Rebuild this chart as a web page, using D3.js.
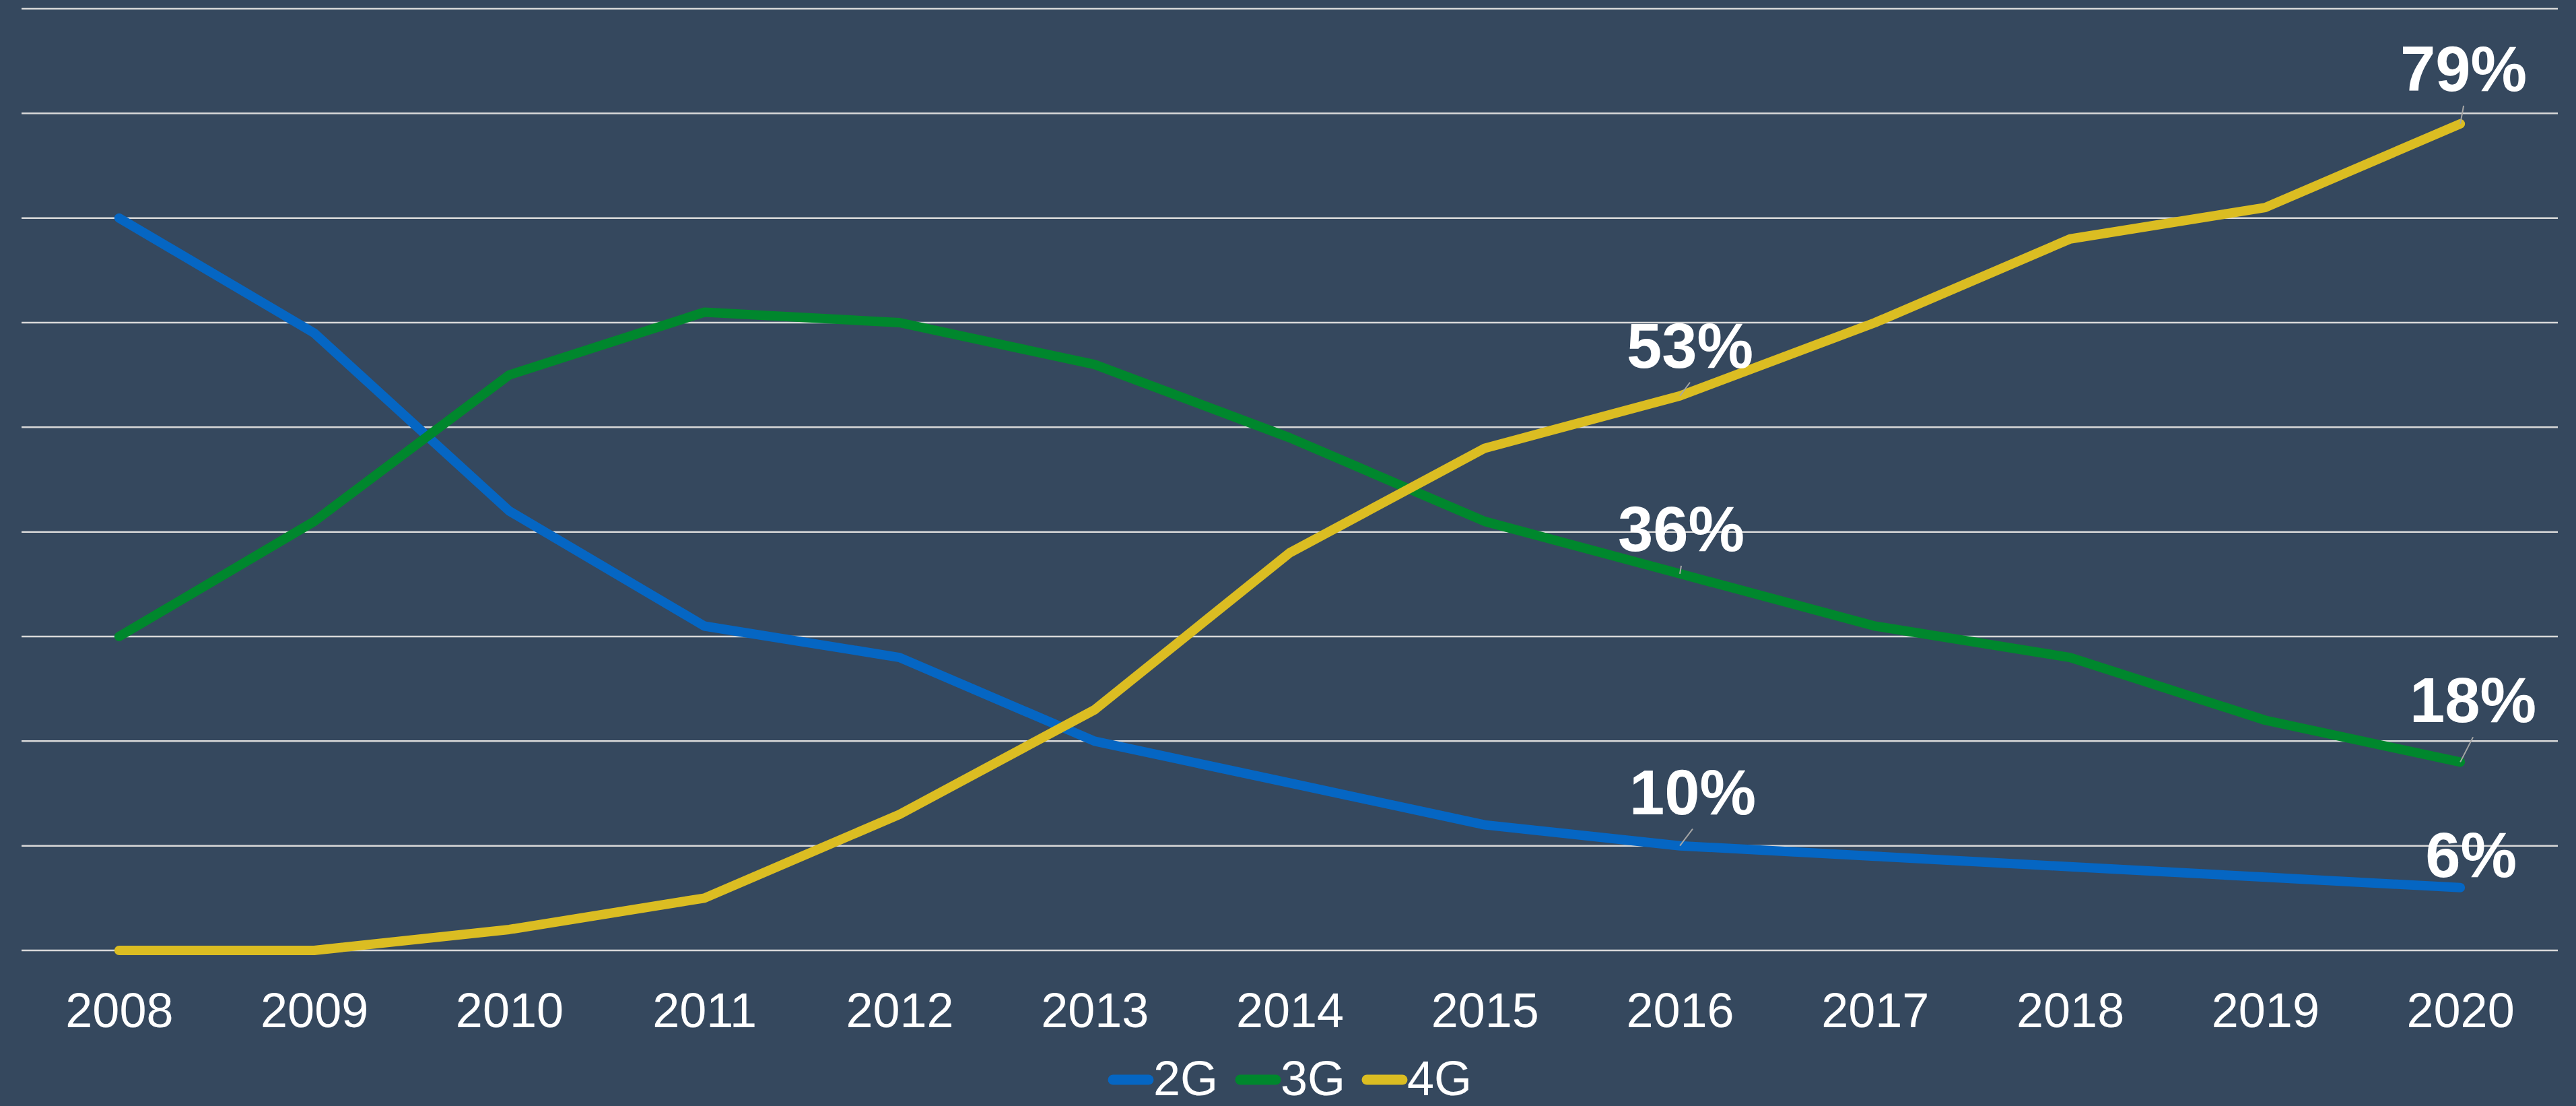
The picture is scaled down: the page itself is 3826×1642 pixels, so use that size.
<!DOCTYPE html>
<html>
<head>
<meta charset="utf-8">
<script src="https://cdn.jsdelivr.net/npm/d3@7"></script>
<style>
  html, body { margin: 0; padding: 0; background: #35485E; }
  svg { display: block; }
</style>
</head>
<body>
<script>
// ---- data ----
const years = ["2008","2009","2010","2011","2012","2013","2014","2015","2016","2017","2018","2019","2020"];
const series2G = [70, 59, 42, 31, 28, 20, 16, 12, 10, 9, 8, 7, 6];
const series3G = [30, 41, 55, 61, 60, 56, 49, 41, 36, 31, 28, 22, 18];
const series4G = [0, 0, 2, 5, 13, 23, 38, 48, 53, 60, 68, 71, 79];
const seriesNames = ["2G", "3G", "4G"];
const yTicks = [0, 10, 20, 30, 40, 50, 60, 70, 80, 90];
// labelled points: series, year
const labelled = [
  { s: "4G", year: "2020" },
  { s: "4G", year: "2016" },
  { s: "3G", year: "2016" },
  { s: "2G", year: "2016" },
  { s: "3G", year: "2020" },
  { s: "2G", year: "2020" }
];

// ---- layout / style ----
const W = 3826, H = 1642;
const colors = { "2G": "#0566C3", "3G": "#00872D", "4G": "#DBBD22" };
const labelOffsets = {
  "4G-2020": [5, -49], "4G-2016": [15, -42], "3G-2016": [2, -34],
  "2G-2016": [19, -47], "3G-2020": [19, -59], "2G-2020": [16, -16]
};

const svg = d3.select("body").append("svg").attr("width", W).attr("height", H);
svg.append("rect").attr("width", W).attr("height", H).attr("fill", "#35485E");

const x = d3.scalePoint().domain(years).range([32, 3799]).padding(0.5);
const y = d3.scaleLinear().domain([0, 90]).range([1411, 13]);

// gridlines
svg.append("g").selectAll("line").data(yTicks).join("line")
  .attr("x1", 32).attr("x2", 3799)
  .attr("y1", d => y(d)).attr("y2", d => y(d))
  .attr("stroke", "#D9D9D9").attr("stroke-width", 2.5);

// x axis labels
const xAxis = d3.axisBottom(x).tickSize(0).tickPadding(0);
const gx = svg.append("g").attr("transform", "translate(0,1525)").call(xAxis);
gx.select(".domain").remove();
gx.selectAll("text")
  .attr("dy", 0).attr("y", 0)
  .attr("fill", "#FFFFFF")
  .attr("font-family", "'Liberation Sans', Arial, sans-serif")
  .attr("font-size", 72);

// lines
const dataMap = { "2G": series2G, "3G": series3G, "4G": series4G };
const line = d3.line().x((d, i) => x(years[i])).y(d => y(d));
seriesNames.forEach(s => {
  svg.append("path")
    .datum(dataMap[s])
    .attr("d", line)
    .attr("fill", "none")
    .attr("stroke", colors[s])
    .attr("stroke-width", 14)
    .attr("stroke-linecap", "round")
    .attr("stroke-linejoin", "round");
});

// data labels with leader lines
labelled.forEach(l => {
  const i = years.indexOf(l.year);
  const v = dataMap[l.s][i];
  const px = x(l.year), py = y(v);
  const off = labelOffsets[l.s + "-" + l.year];
  const cx = px + off[0], by = py + off[1];
  const ly = by + 22;
  if (ly < py - 4) {
    svg.append("line")
      .attr("x1", px).attr("y1", py).attr("x2", cx).attr("y2", ly)
      .attr("stroke", "#A6A6A6").attr("stroke-width", 2);
  }
  svg.append("text")
    .attr("x", cx).attr("y", by)
    .attr("text-anchor", "middle")
    .attr("fill", "#FFFFFF")
    .attr("font-family", "'Liberation Sans', Arial, sans-serif")
    .attr("font-weight", "bold")
    .attr("font-size", 94)
    .text(v + "%");
});

// legend
const legendItems = [
  { s: "2G", x0: 1646 }, { s: "3G", x0: 1835 }, { s: "4G", x0: 2023 }
];
const lg = svg.append("g");
legendItems.forEach(it => {
  lg.append("line")
    .attr("x1", it.x0 + 7).attr("x2", it.x0 + 60)
    .attr("y1", 1603).attr("y2", 1603)
    .attr("stroke", colors[it.s]).attr("stroke-width", 15)
    .attr("stroke-linecap", "round");
  lg.append("text")
    .attr("x", it.x0 + 67).attr("y", 1626)
    .attr("fill", "#FFFFFF")
    .attr("font-family", "'Liberation Sans', Arial, sans-serif")
    .attr("font-size", 72)
    .text(it.s);
});
</script>
</body>
</html>
